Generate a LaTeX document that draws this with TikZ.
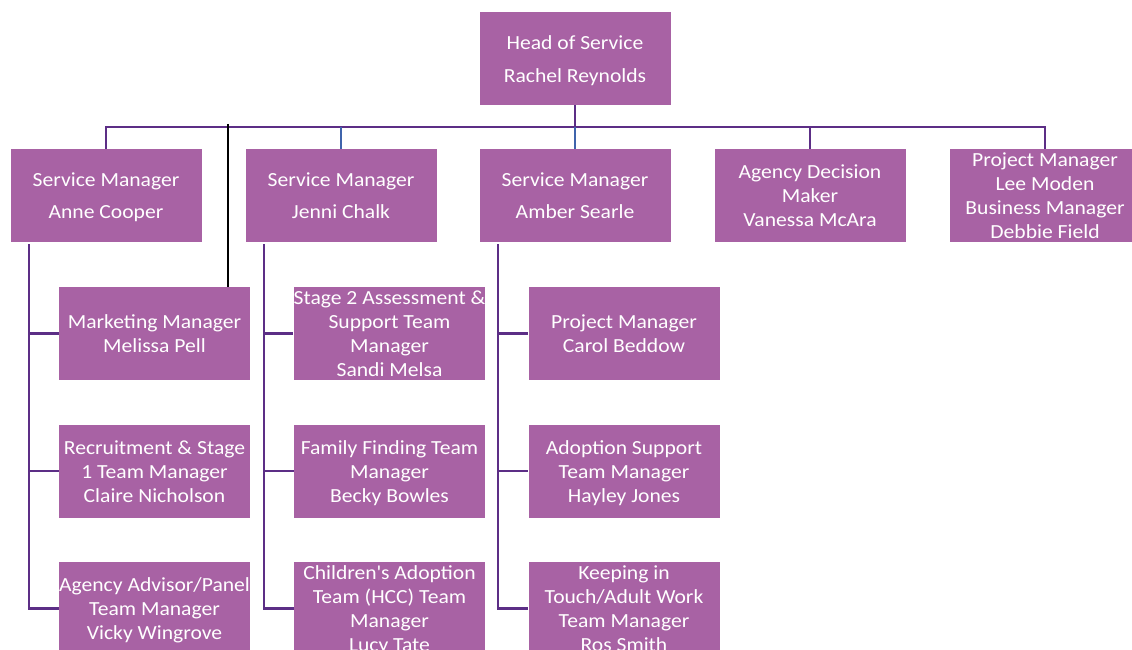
\documentclass[tikz,border=0pt]{standalone}
\usepackage{fontspec}
\setmainfont{Carlito}[FakeStretch=1.08]
\definecolor{boxfill}{HTML}{A862A4}
\definecolor{conn}{HTML}{5C2E86}
\definecolor{connblue}{HTML}{3F64AC}
\newcommand\tstr{\rule{0pt}{22pt}}
\begin{document}
\begin{tikzpicture}[x=1pt,y=-1pt,
  box/.style={draw=none,fill=boxfill,text=white,minimum width=191pt,minimum height=93pt,inner xsep=0pt,inner ysep=-6pt,align=center,font=\fontsize{20}{24}\selectfont},
  line/.style={draw=conn,line width=2.6pt},
  bline/.style={draw=connblue,line width=2pt},
  kline/.style={draw=black,line width=2.4pt}]
\useasboundingbox (0,0) rectangle (1132,650);
\clip (0,0) rectangle (1132,650);
% top row
\node[box] (head) at (575,58.5) {\tstr Head of Service\\[9pt]Rachel Reynolds\strut};
\node[box] (sm1) at (106,195.5) {\tstr Service Manager\\[8pt]Anne Cooper\strut};
\node[box] (sm2) at (341,195.5) {\tstr Service Manager\\[8pt]Jenni Chalk\strut};
\node[box] (sm3) at (575,195.5) {\tstr Service Manager\\[8pt]Amber Searle\strut};
\node[box] (adm) at (810,195.5) {\tstr Agency Decision\\Maker\\Vanessa McAra\strut};
\node[box] (pm) at (1045,195.5) {\tstr Project Manager\\Lee Moden\\Business Manager\\Debbie Field\strut};
% column 1
\node[box] (a2) at (154.5,333.5) {\tstr Marketing Manager\\Melissa Pell\strut};
\node[box] (a3) at (154.5,471) {\tstr Recruitment \& Stage\\1 Team Manager\\Claire Nicholson\strut};
\node[box] (a4) at (154.5,608.5) {\tstr Agency Advisor/Panel\\Team Manager\\Vicky Wingrove\strut};
% column 2
\node[box] (b2) at (389.5,333.5) {\tstr Stage 2 Assessment \&\\Support Team\\Manager\\Sandi Melsa\strut};
\node[box] (b3) at (389.5,471) {\tstr Family Finding Team\\Manager\\Becky Bowles\strut};
\node[box] (b4) at (389.5,608.5) {\tstr Children\textquotesingle s Adoption\\Team (HCC) Team\\Manager\\Lucy Tate\strut};
% column 3
\node[box] (c2) at (624,333.5) {\tstr Project Manager\\Carol Beddow\strut};
\node[box] (c3) at (624,471) {\tstr Adoption Support\\Team Manager\\Hayley Jones\strut};
\node[box] (c4) at (624,608.5) {\tstr Keeping in\\Touch/Adult Work\\Team Manager\\Ros Smith\strut};
% bus
\coordinate (bus1) at (106,127);
\coordinate (bus2) at (341,127);
\coordinate (bus3) at (575,127);
\coordinate (bus4) at (810,127);
\coordinate (bus5) at (1045,127);
\coordinate (blk) at (228,124);
\draw[line] (head.south) -- (bus3);
\draw[line] (sm1.north) -- (bus1) -- (bus5) -- (pm.north);
\draw[line] (bus4) -- (adm.north);
\draw[bline] (bus2) -- (sm2.north);
\draw[bline] (bus3) -- (sm3.north);
\draw[kline] (blk) -- (blk |- a2.north);
% side lines
\coordinate (v1) at (29,244);
\coordinate (v2) at (264,244);
\coordinate (v3) at (498,244);
\draw[line] (v1) |- (a4.west);
\draw[line] (v1 |- a2.west) -- (a2.west);
\draw[line] (v1 |- a3.west) -- (a3.west);
\draw[line] (v2) |- (b4.west);
\draw[line] (v2 |- b2.west) -- (b2.west);
\draw[line] (v2 |- b3.west) -- (b3.west);
\draw[line] (v3) |- (c4.west);
\draw[line] (v3 |- c2.west) -- (c2.west);
\draw[line] (v3 |- c3.west) -- (c3.west);
\end{tikzpicture}
\end{document}
